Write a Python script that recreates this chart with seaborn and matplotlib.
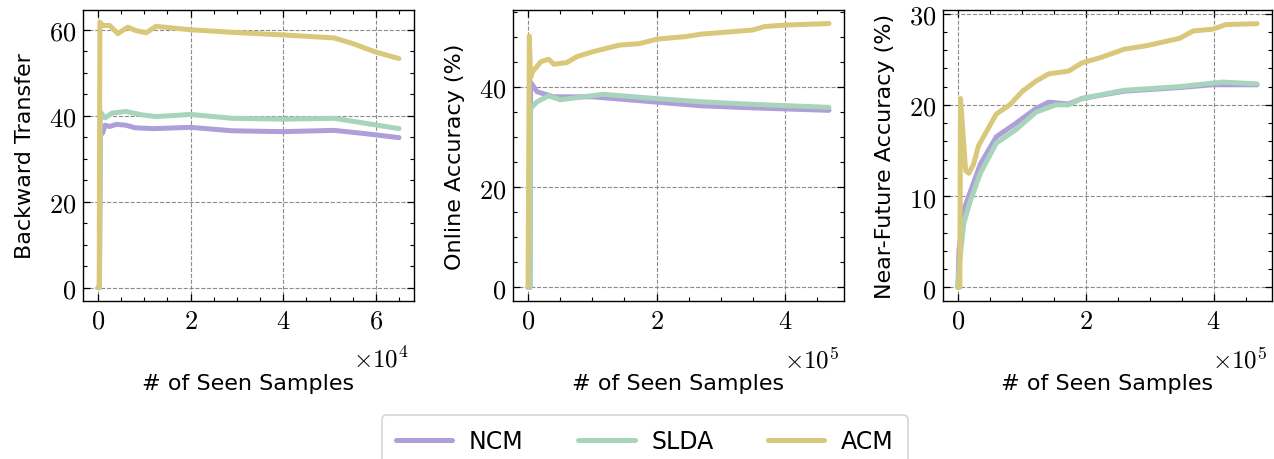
import numpy as np
import pandas as pd
import matplotlib
matplotlib.use("Agg")
import matplotlib.pyplot as plt
import seaborn as sns
from matplotlib.ticker import FuncFormatter, AutoMinorLocator, MultipleLocator
from matplotlib.lines import Line2D

# ---------------- data ----------------
methods = ["NCM", "SLDA", "ACM"]
colors = {"NCM": "#ae9fd9", "SLDA": "#a8d4bc", "ACM": "#d9c87a"}

# Panel 1: Backward Transfer (x in samples)
bwt_ncm_x = [0, 300, 500, 1000, 1500, 2500, 4000, 6000, 8000, 12000, 20000, 29000, 40000, 51000, 58000, 65000]
bwt_ncm_y = [0, 0, 35.5, 36.0, 37.8, 37.5, 38.0, 37.8, 37.2, 37.0, 37.3, 36.5, 36.3, 36.6, 35.8, 34.9]
bwt_slda_x = [0, 300, 500, 1500, 3000, 6000, 9500, 12500, 20000, 29000, 40000, 51000, 58000, 65000]
bwt_slda_y = [0, 0, 40.9, 39.5, 40.6, 41.0, 40.2, 39.8, 40.3, 39.4, 39.2, 39.4, 38.2, 37.0]
bwt_acm_x = [0, 250, 400, 1000, 2500, 4300, 6400, 8200, 10400, 12500, 20000, 29000, 40000, 51000, 55000, 60000, 65000]
bwt_acm_y = [0, 0, 61.8, 61.0, 61.0, 59.1, 60.6, 59.8, 59.3, 60.8, 60.0, 59.4, 58.8, 58.1, 56.8, 54.8, 53.3]

# Panel 2: Online Accuracy (%)
oa_ncm_x = [0, 3000, 4000, 14000, 40000, 100000, 194000, 270000, 349000, 468000]
oa_ncm_y = [0, 0, 40.9, 39.0, 38.0, 38.0, 37.0, 36.2, 35.8, 35.3]
oa_slda_x = [0, 3000, 4000, 14000, 32000, 50000, 117000, 194000, 270000, 349000, 468000]
oa_slda_y = [0, 0, 35.7, 37.0, 38.2, 37.4, 38.5, 37.7, 37.0, 36.5, 35.9]
oa_acm_x = [0, 2000, 4000, 7000, 20000, 32000, 40000, 60000, 76000, 101000, 142000, 173000,
            201000, 245000, 270000, 349000, 368000, 400000, 468000]
oa_acm_y = [0, 50.1, 41.8, 43.0, 45.0, 45.5, 44.5, 44.8, 46.0, 47.0, 48.3, 48.6,
            49.5, 50.0, 50.5, 51.3, 52.0, 52.3, 52.6]

# Panel 3: Near-Future Accuracy (%)
nf_ncm_x = [0, 1500, 9000, 19500, 35000, 60000, 91000, 122000, 142000, 173000, 194000, 260000, 347000, 398000, 468000]
nf_ncm_y = [0, 4.0, 8.5, 10.5, 13.5, 16.5, 18.0, 19.6, 20.3, 20.1, 20.7, 21.5, 21.9, 22.2, 22.2]
nf_slda_x = [0, 1500, 9000, 19500, 35000, 60000, 91000, 122000, 153000, 173000, 194000, 260000, 347000, 414000, 468000]
nf_slda_y = [0, 2.0, 7.0, 9.5, 12.5, 15.8, 17.3, 19.2, 20.0, 20.0, 20.7, 21.6, 22.0, 22.5, 22.3]
nf_acm_x = [0, 3000, 4000, 12000, 17000, 24500, 32000, 40000, 60000, 81000, 101000, 122000, 142000,
            173000, 194000, 224000, 260000, 296000, 347000, 368000, 399000, 419000, 468000]
nf_acm_y = [0, 0, 20.7, 12.8, 12.5, 13.5, 15.5, 16.5, 19.0, 20.0, 21.5, 22.6, 23.4,
            23.7, 24.6, 25.2, 26.1, 26.5, 27.3, 28.1, 28.3, 28.8, 28.9]

ylabels = ["Backward Transfer", "Online Accuracy (%)", "Near-Future Accuracy (%)"]
xlabel = "# of Seen Samples"
x_exponents = [4, 5, 5]


def long_df(ncm, slda, acm):
    rows = []
    for name, (xs, ys) in zip(methods, [ncm, slda, acm]):
        for xv, yv in zip(xs, ys):
            rows.append((name, xv, yv))
    return pd.DataFrame(rows, columns=["method", "x", "y"])


panels = [
    long_df((bwt_ncm_x, bwt_ncm_y), (bwt_slda_x, bwt_slda_y), (bwt_acm_x, bwt_acm_y)),
    long_df((oa_ncm_x, oa_ncm_y), (oa_slda_x, oa_slda_y), (oa_acm_x, oa_acm_y)),
    long_df((nf_ncm_x, nf_ncm_y), (nf_slda_x, nf_slda_y), (nf_acm_x, nf_acm_y)),
]

# ---------------- style ----------------
sns.set_theme(style="white")
plt.rcParams["font.family"] = ["DejaVu Sans"]
plt.rcParams["mathtext.fontset"] = "cm"
plt.rcParams["axes.edgecolor"] = "black"
plt.rcParams["axes.linewidth"] = 1.0
plt.rcParams["text.color"] = "black"
plt.rcParams["axes.labelcolor"] = "black"

W, H = 1274, 460
fig = plt.figure(figsize=(W / 100, H / 100), dpi=100)

ax_rects = [(83, 11, 414, 302), (513, 11, 844, 302), (943, 11, 1272, 302)]
y_major = [20, 20, 10]

axes = []
for i, (l, t, r, b) in enumerate(ax_rects):
    ax = fig.add_axes([l / W, (H - b) / H, (r - l) / W, (b - t) / H])
    axes.append(ax)
    sns.lineplot(data=panels[i], x="x", y="y", hue="method", hue_order=methods,
                 palette=colors, estimator=None, sort=False, linewidth=3.6,
                 legend=False, ax=ax)
    ax.set_facecolor("white")
    for s in ax.spines.values():
        s.set_visible(True)
        s.set_color("black")
        s.set_linewidth(1.0)
    exp = x_exponents[i]
    scale = 10 ** exp
    ax.xaxis.set_major_locator(MultipleLocator(2 * scale))
    ax.xaxis.set_minor_locator(AutoMinorLocator(4))
    ax.yaxis.set_major_locator(MultipleLocator(y_major[i]))
    ax.yaxis.set_minor_locator(AutoMinorLocator())
    ax.xaxis.set_major_formatter(FuncFormatter(lambda v, p, s=scale: r"$\mathrm{%g}$" % round(v / s, 6)))
    ax.yaxis.set_major_formatter(FuncFormatter(lambda v, p: r"$\mathrm{%g}$" % v))
    ax.tick_params(which="both", direction="in", top=True, right=True,
                   bottom=True, left=True, labelsize=19, colors="black")
    ax.tick_params(which="major", length=5, width=0.9, pad=5)
    ax.tick_params(which="minor", length=3, width=0.8)
    ax.grid(True, which="major", linestyle="--", color="#8c8c8c", linewidth=0.8)
    ax.set_axisbelow(True)
    ax.set_xlabel(xlabel, fontsize=16, labelpad=28)
    ax.set_ylabel(ylabels[i], fontsize=16, labelpad=10)
    ax.text(0.985, -0.155, r"$\times\mathrm{10}^{%d}$" % exp, transform=ax.transAxes,
            ha="right", va="top", fontsize=18)

axes[0].set_xlim(-3250, 68250)
axes[1].set_xlim(-23400, 491400)
axes[2].set_xlim(-23400, 491400)
axes[0].set_ylim(-3.1, 64.6)
axes[1].set_ylim(-2.7, 55.3)
axes[2].set_ylim(-1.5, 30.4)

handles = [Line2D([0], [0], color=colors[m], lw=3.6) for m in methods]
leg = fig.legend(handles, methods, loc="upper center", bbox_to_anchor=(0.506, 0.121),
                 ncol=3, fontsize=17, frameon=True, handlelength=2.4, handletextpad=0.7,
                 columnspacing=2.3, borderpad=0.6, fancybox=True)
leg.get_frame().set_edgecolor("#cccccc")
leg.get_frame().set_linewidth(1.2)

fig.savefig("out.png", dpi=100)
